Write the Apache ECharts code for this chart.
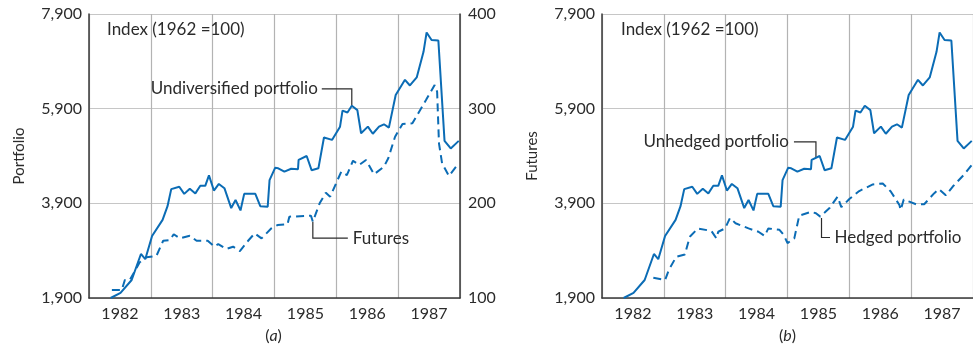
<!DOCTYPE html>
<html>
<head>
<meta charset="utf-8">
<script src="https://cdn.jsdelivr.net/npm/echarts@6/dist/echarts.min.js"></script>
<style>
  html, body { margin: 0; padding: 0; background: #ffffff; }
  #chart { width: 973px; height: 350px; }
</style>
</head>
<body>
<div id="chart"></div>
<script>
// Year bands on the x axis (label sits in the middle of each year)
const yearLabels = ['1982', '1983', '1984', '1985', '1986', '1987'];
// Left value axis ticks (portfolio / futures value)
const portfolioTicks = [1900, 3900, 5900, 7900];
// Right index axis ticks for panel (a)
const indexTicks = [100, 200, 300, 400];

// Undiversified (unhedged) portfolio value, [year, value]
const undiversified = [
  [1982.35, 1900], [1982.51, 2010], [1982.69, 2280], [1982.84, 2830], [1982.91, 2720],
  [1983.02, 3210], [1983.19, 3550], [1983.27, 3840], [1983.33, 4200], [1983.46, 4250],
  [1983.54, 4100], [1983.63, 4210], [1983.72, 4110], [1983.80, 4270], [1983.88, 4270],
  [1983.94, 4490], [1984.02, 4170], [1984.10, 4310], [1984.19, 4220], [1984.30, 3800],
  [1984.37, 3970], [1984.45, 3750], [1984.51, 4100], [1984.69, 4100], [1984.77, 3840],
  [1984.89, 3830], [1984.92, 4390], [1985.01, 4650], [1985.06, 4640], [1985.16, 4570],
  [1985.27, 4630], [1985.38, 4620], [1985.39, 4820], [1985.52, 4900], [1985.60, 4600],
  [1985.71, 4640], [1985.80, 5290], [1985.93, 5240], [1986.06, 5520], [1986.10, 5860],
  [1986.18, 5820], [1986.25, 5960], [1986.34, 5870], [1986.40, 5380], [1986.51, 5520],
  [1986.59, 5370], [1986.69, 5520], [1986.77, 5570], [1986.85, 5500], [1986.96, 6190],
  [1987.11, 6510], [1987.19, 6390], [1987.30, 6560], [1987.41, 7100], [1987.46, 7510],
  [1987.54, 7350], [1987.65, 7340], [1987.75, 5220], [1987.85, 5060], [1987.98, 5220]
];

// Futures index (1962 = 100), [year, index]
const futures = [
  [1982.37, 108.5], [1982.53, 108.5], [1982.58, 119.0], [1982.66, 119.0], [1982.82, 137.7],
  [1982.93, 143.0], [1983.09, 144.4], [1983.20, 160.5], [1983.31, 161.3], [1983.37, 167.3],
  [1983.47, 163.0], [1983.63, 165.8], [1983.74, 160.5], [1983.92, 160.5], [1984.03, 154.2],
  [1984.09, 157.0], [1984.22, 151.8], [1984.33, 154.2], [1984.44, 149.6], [1984.57, 160.2],
  [1984.68, 168.3], [1984.79, 163.0], [1984.95, 173.6], [1985.05, 177.1], [1985.21, 177.8],
  [1985.24, 185.9], [1985.59, 186.9], [1985.62, 180.6], [1985.73, 200.0], [1985.83, 211.2],
  [1985.90, 207.0], [1986.08, 233.4], [1986.17, 229.9], [1986.27, 245.0], [1986.37, 240.5],
  [1986.48, 245.8], [1986.61, 230.7], [1986.77, 238.7], [1986.84, 247.6], [1986.95, 270.4],
  [1987.07, 283.8], [1987.23, 284.5], [1987.45, 309.1], [1987.59, 325.0], [1987.63, 317.9],
  [1987.66, 263.4], [1987.71, 242.3], [1987.82, 228.9], [1987.98, 242.3]
];

// Hedged portfolio value, [year, value]
const hedged = [
  [1982.83, 2330], [1983.02, 2280], [1983.08, 2490], [1983.20, 2770], [1983.34, 2820],
  [1983.42, 3195], [1983.55, 3370], [1983.77, 3316], [1983.85, 3160], [1983.88, 3300],
  [1983.99, 3370], [1984.07, 3590], [1984.16, 3480], [1984.37, 3370], [1984.53, 3300],
  [1984.63, 3210], [1984.69, 3370], [1984.87, 3340], [1984.94, 3230], [1985.00, 3060],
  [1985.11, 3160], [1985.19, 3640], [1985.38, 3720], [1985.46, 3690], [1985.53, 3620],
  [1985.68, 3800], [1985.81, 4040], [1985.87, 3820], [1986.00, 3990], [1986.16, 4160],
  [1986.38, 4300], [1986.54, 4320], [1986.67, 4150], [1986.81, 3865], [1986.83, 3760],
  [1986.88, 3980], [1986.97, 3935], [1987.08, 3880], [1987.21, 3880], [1987.37, 4110],
  [1987.45, 4200], [1987.56, 4070], [1987.67, 4250], [1987.85, 4500], [1987.98, 4710]
];

const FONT = 'Lato';
const TEXT = '#2b2b2b';
const AXIS = '#3a3a3a';
const BLUE = '#0b6cb5';

const yearStarts = yearLabels.map(Number).concat([Number(yearLabels[yearLabels.length - 1]) + 1]);
const yearMids = yearLabels.map(y => Number(y) + 0.5);
const fmtThousands = v => Math.round(v).toLocaleString('en-US');

function xAxisFor(gridIndex) {
  return {
    type: 'value', gridIndex,
    min: yearStarts[0], max: yearStarts[yearStarts.length - 1],
    axisLine: { show: true, onZero: false, lineStyle: { color: AXIS, width: 1.5 } },
    axisTick: { show: false, customValues: yearStarts },
    splitLine: { show: true, lineStyle: { color: '#b3b3b3', width: 1.2 } },
    axisLabel: {
      customValues: yearMids,
      formatter: v => yearLabels[Math.floor(v - yearStarts[0])],
      color: TEXT, fontFamily: FONT, fontSize: 16, margin: 8
    }
  };
}

function leftAxisFor(gridIndex, name) {
  return {
    type: 'value', gridIndex, position: 'left',
    min: portfolioTicks[0], max: portfolioTicks[portfolioTicks.length - 1],
    name, nameLocation: 'middle', nameGap: 62, nameRotate: 90,
    nameTextStyle: { color: TEXT, fontFamily: FONT, fontSize: 15 },
    axisLine: { show: true, onZero: false, lineStyle: { color: AXIS, width: 1.5 } },
    axisTick: { show: false, customValues: portfolioTicks },
    splitLine: { show: true, lineStyle: { color: '#c6c6c6', width: 1.2 } },
    axisLabel: {
      customValues: portfolioTicks, formatter: fmtThousands,
      color: TEXT, fontFamily: FONT, fontSize: 16, margin: 7
    }
  };
}

const chart = echarts.init(document.getElementById('chart'), null, { renderer: 'canvas' });

chart.setOption({
  animation: false,
  backgroundColor: '#ffffff',
  grid: [
    { left: 89, top: 14, width: 371, height: 284 },
    { left: 602, top: 14, width: 372, height: 284 }
  ],
  xAxis: [xAxisFor(0), xAxisFor(1)],
  yAxis: [
    leftAxisFor(0, 'Portfolio'),
    {
      type: 'value', gridIndex: 0, position: 'right',
      min: indexTicks[0], max: indexTicks[indexTicks.length - 1], interval: 100,
      axisLine: { show: true, onZero: false, lineStyle: { color: AXIS, width: 1.5 } },
      axisTick: { show: false },
      splitLine: { show: false },
      axisLabel: { color: TEXT, fontFamily: FONT, fontSize: 16, margin: 8 }
    },
    leftAxisFor(1, 'Futures')
  ],
  series: [
    {
      name: 'Undiversified portfolio', type: 'line', xAxisIndex: 0, yAxisIndex: 0,
      data: undiversified, showSymbol: false, symbol: 'none',
      lineStyle: { color: BLUE, width: 2 }
    },
    {
      name: 'Futures', type: 'line', xAxisIndex: 0, yAxisIndex: 1,
      data: futures, showSymbol: false, symbol: 'none',
      lineStyle: { color: BLUE, width: 2, type: [8, 5] }
    },
    {
      name: 'Unhedged portfolio', type: 'line', xAxisIndex: 1, yAxisIndex: 2,
      data: undiversified, showSymbol: false, symbol: 'none',
      lineStyle: { color: BLUE, width: 2 }
    },
    {
      name: 'Hedged portfolio', type: 'line', xAxisIndex: 1, yAxisIndex: 2,
      data: hedged, showSymbol: false, symbol: 'none',
      lineStyle: { color: BLUE, width: 2, type: [8, 5] }
    }
  ]
});

// Annotation anchors in data space, converted through the axes
const px = (xi, yi, pt) => chart.convertToPixel({ xAxisIndex: xi, yAxisIndex: yi }, pt);
const aUndiv = px(0, 0, [1986.25, 5960]);
const aFut = px(0, 1, [1985.62, 180.6]);
const aUnhedged = px(1, 2, [1985.46, 4880]);
const aHedged = px(1, 2, [1985.55, 3590]);
const topLeftA = px(0, 0, [1982, 7900]);
const topLeftB = px(1, 2, [1982, 7900]);
const bottomA = px(0, 0, [1985, 1900]);
const bottomB = px(1, 2, [1985, 1900]);

const textStyle = (extra) => Object.assign({
  fill: TEXT, fontFamily: FONT, fontSize: 17, verticalAlign: 'middle'
}, extra);
const leader = (points) => ({
  type: 'polyline', silent: true,
  shape: { points },
  style: { stroke: '#2b2b2b', lineWidth: 1.2, fill: null }
});
const caption = (x, y, letter) => ({
  type: 'text', silent: true, x, y,
  style: {
    text: '{p|(}{i|' + letter + '}{p|)}',
    align: 'center', verticalAlign: 'middle',
    rich: {
      p: { fill: TEXT, fontFamily: FONT, fontSize: 16 },
      i: { fill: TEXT, fontFamily: FONT, fontSize: 16, fontStyle: 'italic' }
    }
  }
});

chart.setOption({
  graphic: [
    { type: 'text', silent: true, x: topLeftA[0] + 18, y: topLeftA[1] + 16,
      style: textStyle({ text: 'Index (1962 =100)' }) },
    { type: 'text', silent: true, x: topLeftB[0] + 19, y: topLeftB[1] + 16,
      style: textStyle({ text: 'Index (1962 =100)' }) },

    leader([[aUndiv[0], aUndiv[1]], [aUndiv[0], aUndiv[1] - 17], [aUndiv[0] - 30, aUndiv[1] - 17]]),
    { type: 'text', silent: true, x: aUndiv[0] - 34, y: aUndiv[1] - 17,
      style: textStyle({ text: 'Undiversified portfolio', align: 'right' }) },

    leader([[aFut[0], aFut[1]], [aFut[0], aFut[1] + 16.5], [aFut[0] + 35, aFut[1] + 16.5]]),
    { type: 'text', silent: true, x: aFut[0] + 40, y: aFut[1] + 16.5,
      style: textStyle({ text: 'Futures' }) },

    leader([[aUnhedged[0], aUnhedged[1]], [aUnhedged[0], aUnhedged[1] - 15], [aUnhedged[0] - 22, aUnhedged[1] - 15]]),
    { type: 'text', silent: true, x: aUnhedged[0] - 27, y: aUnhedged[1] - 15,
      style: textStyle({ text: 'Unhedged portfolio', align: 'right' }) },

    leader([[aHedged[0], aHedged[1]], [aHedged[0], aHedged[1] + 19.5], [aHedged[0] + 8.5, aHedged[1] + 19.5]]),
    { type: 'text', silent: true, x: aHedged[0] + 13, y: aHedged[1] + 19.5,
      style: textStyle({ text: 'Hedged portfolio' }) },

    caption(bottomA[0] - 1, bottomA[1] + 38, 'a'),
    caption(bottomB[0], bottomB[1] + 38, 'b')
  ]
});
</script>
</body>
</html>
